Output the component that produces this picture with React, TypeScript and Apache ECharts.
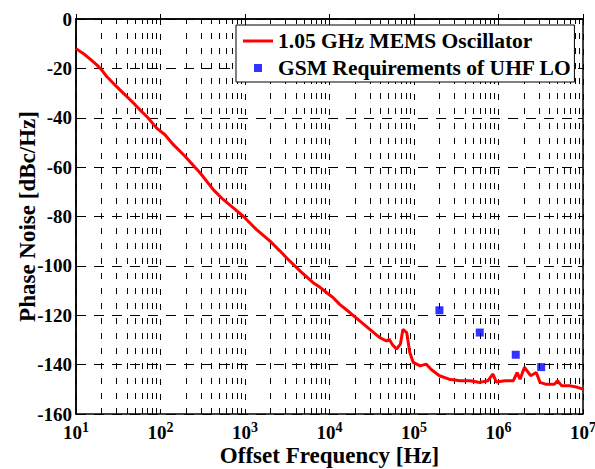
import React, { useEffect, useRef } from "react";
import * as echarts from "echarts";

const lineName = "1.05 GHz MEMS Oscillator";
const gsmName = "GSM Requirements of UHF LO";

const freqHz = [
  10, 12.8, 15.3, 17.6, 20.1, 23.1, 27.6, 33.1, 41.6, 50, 57.2, 71.5, 90, 113, 142, 195,
  295, 421, 551, 728, 953, 1370, 1980, 2600, 3400, 4500, 6400, 7800, 9200, 11000, 13200,
  17400, 22800, 30000, 39000, 47000, 51000, 55000, 62000, 69000, 74000, 82000, 89000, 98000,
  118000, 140000, 160000, 200000, 260000, 350000, 460000, 600000, 750000, 860000, 940000,
  1.2e6, 1.5e6, 1.66e6, 1.8e6, 2.03e6, 2.4e6, 2.8e6, 3.1e6, 3.6e6, 4.6e6, 5.0e6, 5.6e6,
  7.1e6, 8.6e6, 1e7,
];
const phaseNoise = [
  -12.0, -14.5, -16.8, -18.6, -20.6, -23.3, -26.0, -28.7, -32.0, -34.7, -36.8, -40.1, -44.2,
  -46.9, -50.9, -55.6, -62.4, -69.1, -73.1, -76.5, -79.9, -85.3, -90.0, -94.0, -98.1, -102.1,
  -106.8, -108.8, -110.8, -112.8, -115.6, -118.9, -122.3, -125.7, -129.0, -130.4, -129.7,
  -131.7, -133.7, -131.7, -125.7, -127.0, -135.0, -139.1, -140.5, -139.8, -142.0, -144.5,
  -145.9, -146.5, -146.5, -147.2, -146.5, -143.8, -147.0, -146.5, -146.5, -143.2, -145.9,
  -141.1, -144.5, -143.2, -147.2, -147.9, -147.9, -146.5, -148.6, -148.6, -149.2, -149.9,
];

const gsmFreq = [2e5, 6e5, 1.6e6, 3.2e6];
const gsmLimit = [-118, -127, -136, -141];

const decades = [10, 100, 1000, 10000, 100000, 1000000, 10000000];
const minorMultipliers = [2, 3, 4, 5, 6, 7, 8, 9];

const FONT = "Liberation Serif";

export default function App() {
  const ref = useRef<HTMLDivElement>(null);

  useEffect(() => {
    if (!ref.current) return;
    const chart = echarts.init(ref.current, undefined, { renderer: "svg" });

    const minorGrid: number[] = [];
    decades.slice(0, -1).forEach((d) => minorMultipliers.forEach((m) => minorGrid.push(d * m)));

    const lineData = freqHz.map((f, i) => [f, phaseNoise[i]]);
    const gsmData = gsmFreq.map((f, i) => [f, gsmLimit[i]]);

    const dash = { color: "#000", width: 1, type: [6, 9] as number[] };

    chart.setOption({
      animation: false,
      backgroundColor: "#fff",
      textStyle: { fontFamily: FONT, fontWeight: "bold", color: "#000" },
      grid: {
        left: 76,
        right: 12,
        top: 19,
        bottom: 55,
        show: true,
        borderColor: "#000",
        borderWidth: 1.5,
        backgroundColor: "transparent",
        containLabel: false,
        outerBoundsMode: "none",
      },
      legend: {
        orient: "vertical",
        left: 236,
        top: 25,
        data: [
          { name: lineName, icon: "path://M0,0L30,0L30,3L0,3Z" },
          { name: gsmName, icon: "path://M0,0L8,0L8,8L0,8Z" },
        ],
        backgroundColor: "#fff",
        borderColor: "#000",
        borderWidth: 1,
        padding: [5, 3, 3, 7],
        itemGap: 5,
        itemWidth: 30,
        itemHeight: 8,
        textStyle: { fontFamily: FONT, fontWeight: "bold", fontSize: 21.5, color: "#000" },
        z: 10,
      },
      xAxis: [
        {
          type: "log",
          logBase: 10,
          min: 10,
          max: 1e7,
          splitNumber: 6,
          name: "Offset Frequency [Hz]",
          nameLocation: "middle",
          nameGap: 31,
          nameMoveOverlap: false,
          nameTextStyle: {
            fontFamily: FONT,
            fontWeight: "bold",
            fontSize: 23,
            lineHeight: 20,
            color: "#000",
          },
          axisLine: { show: true, lineStyle: { color: "#000", width: 1.5 } },
          axisTick: { show: true, inside: true, length: 5, lineStyle: { color: "#000" } },
          splitLine: { show: true, lineStyle: dash },
          axisLabel: {
            margin: 6,
            formatter: (v: number) => `{b|10}{s|${Math.round(Math.log10(v))}}`,
            rich: {
              b: {
                fontFamily: FONT,
                fontWeight: "bold",
                fontSize: 19,
                lineHeight: 18,
                color: "#000",
                padding: [6, 0, 0, 0],
              },
              s: {
                fontFamily: FONT,
                fontWeight: "bold",
                fontSize: 14,
                lineHeight: 12,
                color: "#000",
                verticalAlign: "top",
              },
            },
          },
        },
        {
          type: "log",
          logBase: 10,
          min: 10,
          max: 1e7,
          splitNumber: 6,
          position: "top",
          axisLine: { show: false },
          axisTick: { show: true, inside: true, length: 5, lineStyle: { color: "#000" } },
          axisLabel: { show: false },
          splitLine: { show: false },
        },
      ],
      yAxis: [
        {
          type: "value",
          min: -160,
          max: 0,
          interval: 20,
          name: "Phase Noise [dBc/Hz]",
          nameLocation: "middle",
          nameGap: 37,
          nameMoveOverlap: false,
          nameTextStyle: { fontFamily: FONT, fontWeight: "bold", fontSize: 23, color: "#000" },
          axisLine: { show: true, lineStyle: { color: "#000", width: 1.5 } },
          axisTick: { show: true, inside: true, length: 5, lineStyle: { color: "#000" } },
          axisLabel: {
            margin: 4,
            fontFamily: FONT,
            fontWeight: "bold",
            fontSize: 19,
            lineHeight: 10,
            color: "#000",
          },
          splitLine: { show: true, lineStyle: { color: "#000", width: 1, type: [10, 8] } },
        },
        {
          type: "value",
          min: -160,
          max: 0,
          interval: 20,
          position: "right",
          axisLine: { show: false },
          axisTick: { show: true, inside: true, length: 5, lineStyle: { color: "#000" } },
          axisLabel: { show: false },
          splitLine: { show: false },
        },
      ],
      series: [
        {
          name: "minor-grid",
          type: "line",
          data: [],
          silent: true,
          z: 1,
          markLine: {
            silent: true,
            z: 1,
            symbol: ["none", "none"],
            label: { show: false },
            emphasis: { disabled: true },
            lineStyle: dash,
            data: minorGrid.map((v) => ({ xAxis: v })),
          },
        },
        {
          name: lineName,
          type: "line",
          data: lineData,
          symbol: "none",
          z: 3,
          lineStyle: { color: "#ff0000", width: 3 },
          itemStyle: { color: "#ff0000" },
        },
        {
          name: gsmName,
          type: "scatter",
          data: gsmData,
          symbol: "rect",
          symbolSize: 8,
          z: 4,
          itemStyle: { color: "#0000ff" },
        },
      ],
    });

    return () => chart.dispose();
  }, []);

  return (
    <div
      ref={ref}
      style={{ position: "fixed", left: 0, top: 0, width: 595, height: 469 }}
    />
  );
}
